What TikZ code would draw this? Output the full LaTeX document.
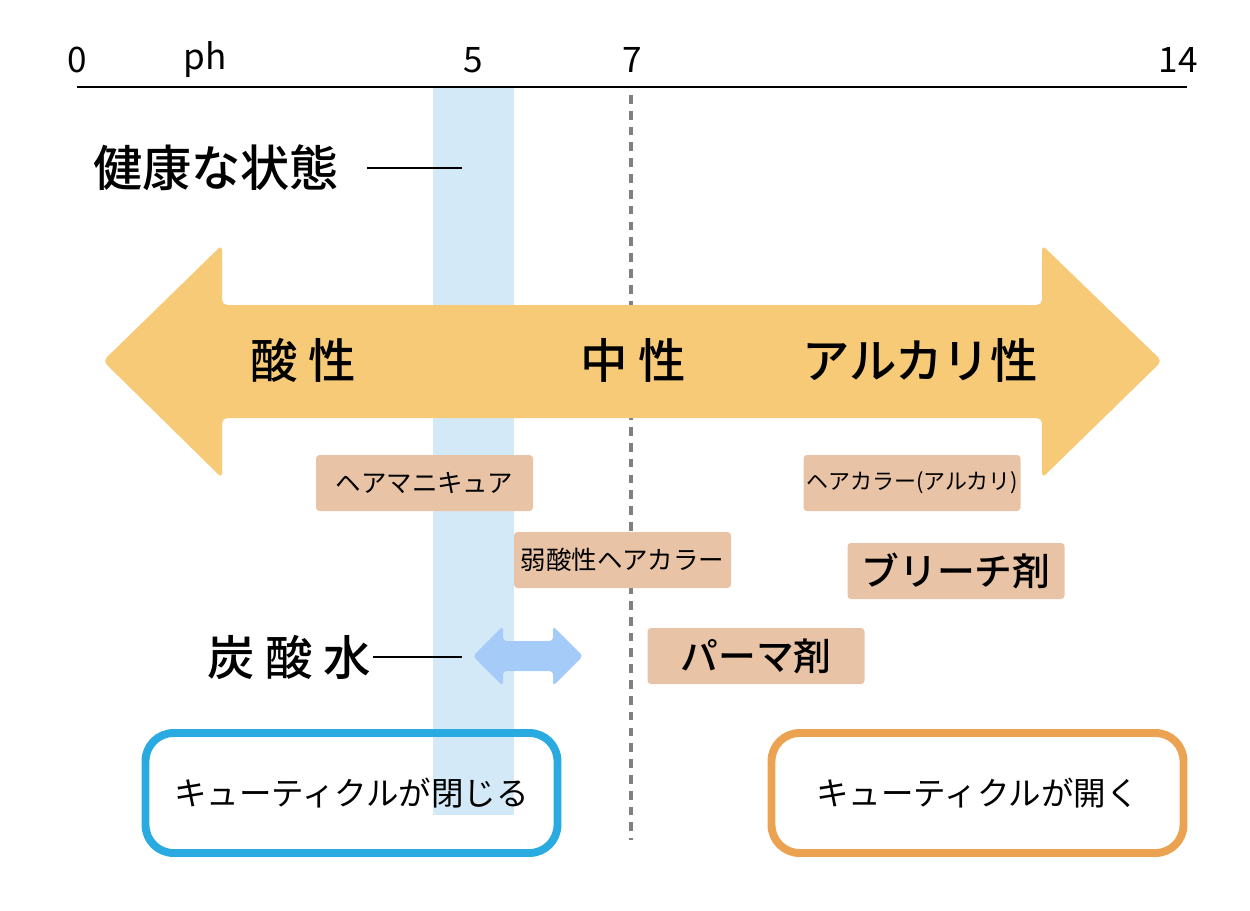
\documentclass[tikz,border=0pt]{standalone}
\usepackage{fontspec}
\setmainfont{Noto Sans CJK JP}[BoldFont={Noto Sans CJK JP Medium}]
\usetikzlibrary{positioning}
\definecolor{band}{HTML}{D4E9F7}
\definecolor{arw}{HTML}{F7CA78}
\definecolor{tan}{HTML}{E8C3A5}
\definecolor{sky}{HTML}{A5CCF9}
\definecolor{bluebox}{HTML}{29ABE2}
\definecolor{orangebox}{HTML}{EBA251}
\begin{document}
\begin{tikzpicture}[x=0.02cm, y=-0.02cm]
	\tikzstyle{num}=[font=\fontsize{20}{22}\selectfont, inner sep=0pt];
	\tikzstyle{big}=[font=\fontsize{27}{29}\selectfont\bfseries, inner sep=0pt];
	\tikzstyle{tag}=[fill=tan, rounded corners=2pt, minimum width=217*0.02cm,
	                 minimum height=56*0.02cm, inner sep=0pt, font=\fontsize{14.5}{16}\selectfont];
	\tikzstyle{state}=[draw, line width=4.5pt, rounded corners=16pt, minimum width=412*0.02cm,
	                   minimum height=120*0.02cm, font=\fontsize{18.5}{20}\selectfont];
	\useasboundingbox (0,0) rectangle (1250,910);
	% scale
	\node[num] (n0) at (77,60) {0};
	\node[num] (ph) at (205,60) {ph};
	\node[num] (n5) at (473,60) {5};
	\node[num] (n7) at (632,60) {7};
	\node[num] (n14) at (1178,60) {14};
	\coordinate (l0) at (77,87);
	\coordinate (l14) at (1187,87);
	\fill[band] (433,87) rectangle (514,815);
	\draw[line width=1pt] (l0) -- (l14);
	\coordinate (d0) at (631,95);
	\coordinate (d1) at (631,840);
	\draw[gray, line width=2pt, dash pattern=on 5pt off 4pt] (d0) -- (d1);
	% main arrow
	\fill[arw, rounded corners=3pt] (103,361) -- (222,245) -- (222,305) -- (1042,305)
	  -- (1042,245) -- (1162,361) -- (1042,478) -- (1042,418) -- (222,418) -- (222,478) -- cycle;
	\node[big] (acid) at (303,360) {酸 性};
	\node[big] (neutral) at (633,360) {中 性};
	\node[big] (alkali) at (920,360) {アルカリ性};
	% health
	\node[big, font=\fontsize{28}{30}\selectfont\bfseries] (health) at (216,168) {健康な状態};
	\coordinate (h1) at (462,168);
	\draw[line width=1pt] (health.east) ++(28,0) -- (h1);
	\node[big] (soda) at (289,657) {炭 酸 水};
	\coordinate (s1) at (462,657);
	\draw[line width=1pt] (soda.east) ++(2,0) -- (s1);
	\fill[sky, rounded corners=2pt] (473,656) -- (503,626) -- (503,641) -- (553,641) -- (553,626)
	  -- (583,656) -- (553,686) -- (553,671) -- (503,671) -- (503,686) -- cycle;
	% products
	\node[tag] (mani) at (424.5,483) {ヘアマニキュア};
	\node[tag, font=\fontsize{12.5}{14}\selectfont] (color) at (912,483) {ヘアカラー(アルカリ)};
	\node[tag] (weak) at (622.5,560) {弱酸性ヘアカラー};
	\node[tag, font=\fontsize{21.5}{23}\selectfont\bfseries] (bleach) at (956,571) {ブリーチ剤};
	\node[tag, font=\fontsize{21.5}{23}\selectfont\bfseries] (perm) at (756,656) {パーマ剤};
	% cuticle
	\node[state, draw=bluebox] (close) at (351.5,793) {キューティクルが閉じる};
	\node[state, draw=orangebox] (open) at (977.5,793) {キューティクルが開く};
\end{tikzpicture}
\end{document}
